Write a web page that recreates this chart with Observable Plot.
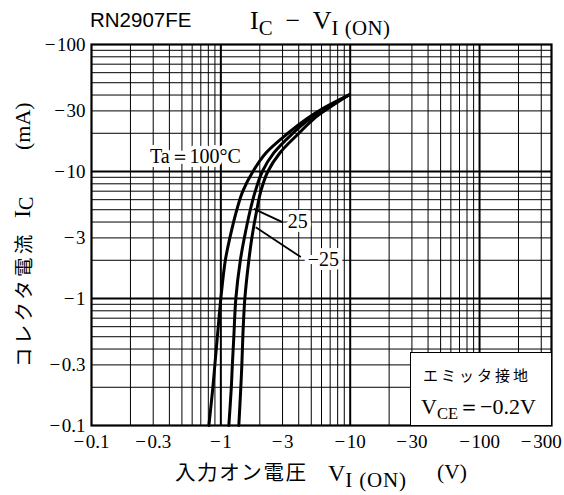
<!DOCTYPE html>
<html><head><meta charset="utf-8">
<script src="https://cdn.jsdelivr.net/npm/d3@7"></script>
<script src="https://cdn.jsdelivr.net/npm/@observablehq/plot@0.6"></script>
<style>
body{margin:0;background:#fff;}
#wrap{position:relative;width:564px;height:495px;overflow:hidden;}
.t{position:absolute;white-space:nowrap;color:#000;font-family:"Liberation Serif",serif;line-height:1;}
.jp{font-family:"Noto Sans CJK JP",sans-serif;}
.sb{font-size:0.8em;position:relative;top:0.28em;}
</style></head><body>
<div id="wrap">
<div id="chart"></div>
<div class="t" style="left:90px;top:10px;font-family:'Liberation Sans',sans-serif;font-size:20.5px;">RN2907FE</div>
<div class="t" style="left:250px;top:8px;font-size:26px;">I<span class="sb">C</span>&nbsp; −&nbsp; V<span class="sb" style="letter-spacing:0.5px;">I (ON)</span></div>
<!-- x axis label -->
<div class="t jp" style="left:175px;top:461px;font-size:20.5px;letter-spacing:1.6px;">入力オン電圧</div>
<div class="t" style="left:328px;top:461px;font-size:24px;">V<span class="sb" style="font-size:21px;letter-spacing:0.8px;">I (ON)</span></div>
<div class="t" style="left:437px;top:462px;font-size:21.5px;">(V)</div>
<!-- condition box -->
<div class="t" style="left:410px;top:352px;width:141px;height:73px;background:#fff;border-left:1.6px solid #000;border-top:1.6px solid #000;box-sizing:border-box;"></div>
<div class="t jp" style="left:423px;top:367px;font-size:15px;letter-spacing:3px;">エミッタ接地</div>
<div class="t" style="left:421px;top:396px;font-size:22px;">V<span class="sb" style="font-size:16.5px;">CE</span>＝−0.2V</div>
</div>
<script>
// Data (absolute values; the axes print them with a minus sign)
const current = [0.1, 0.2, 0.3, 0.5, 1, 2, 3, 5, 7, 10, 14, 20, 26, 32, 40];
const v100 = [0.808, 0.868, 0.899, 0.940, 1.00, 1.083, 1.174, 1.329, 1.479, 1.77, 2.23, 3.30, 4.62, 6.37, 9.75];
const v25  = [1.153, 1.205, 1.227, 1.260, 1.306, 1.415, 1.519, 1.690, 1.847, 2.093, 2.567, 3.60, 4.87, 6.60, 9.75];
const vm25 = [1.377, 1.427, 1.453, 1.479, 1.533, 1.646, 1.736, 1.898, 2.038, 2.308, 2.858, 4.01, 5.23, 6.96, 9.75];
const series = ["100", "25", "-25"];
const seriesValues = [v100, v25, vm25];

const xTicks = [0.1, 0.3, 1, 3, 10, 30, 100, 300];
const yTicks = [0.1, 0.3, 1, 3, 10, 30, 100];
const decadesX = [0.1, 1, 10, 100];
const decadesY = [0.1, 1, 10];
const mult = [2, 3, 4, 5, 6, 7, 8, 9];

// annotations
const labelTa = [{x: 1.43, y: 13.1, text: "Ta＝100°C"}];
const labelT = [{x: 3.29, y: 4.04, text: "25"}, {x: 4.70, y: 2.03, text: "−25"}];
const arrows = [
  {x1: 2.99, y1: 3.99, x2: 1.80, y2: 5.08},
  {x1: 4.15, y1: 2.12, x2: 1.86, y2: 3.64}
];

const rows = series.flatMap((s, k) => current.map((c, i) => ({t: s, v: seriesValues[k][i], i: c})));
const xMinor = decadesX.flatMap(d => mult.map(m => d * m)).filter(v => v < 360);
const yMinor = decadesY.flatMap(d => mult.map(m => d * m));
const fmt = d => "−\u200a" + d;

const plot = Plot.plot({
  width: 564, height: 495,
  marginLeft: 91, marginRight: 13, marginTop: 44, marginBottom: 70,
  style: {fontFamily: "'Liberation Serif', serif", fontSize: "19px", background: "transparent", color: "#000"},
  x: {type: "log", domain: [0.1, 360], label: null},
  y: {type: "log", domain: [0.1, 100], label: null},
  marks: [
    Plot.ruleX(xMinor, {stroke: "#000", strokeWidth: 1}),
    Plot.ruleY(yMinor, {stroke: "#000", strokeWidth: 1}),
    Plot.ruleX(decadesX.slice(1), {stroke: "#000", strokeWidth: 2}),
    Plot.ruleY(decadesY.slice(1), {stroke: "#000", strokeWidth: 2}),
    Plot.frame({stroke: "#000", strokeWidth: 2.2}),
    Plot.axisX({ticks: xTicks, tickFormat: fmt, tickSize: 0, tickPadding: 9, fontSize: 19, label: null}),
    Plot.axisY({ticks: yTicks, tickFormat: fmt, tickSize: 0, tickPadding: 6, fontSize: 19, label: null}),
    Plot.text(labelTa, {x: "x", y: "y", text: "text", textAnchor: "end", fontSize: 20, fill: "#000", stroke: "#fff", strokeWidth: 8, paintOrder: "stroke"}),
    Plot.text(labelT, {x: "x", y: "y", text: "text", textAnchor: "start", fontSize: 20, fill: "#000", stroke: "#fff", strokeWidth: 8, paintOrder: "stroke"}),
    Plot.line(rows, {x: "v", y: "i", z: "t", stroke: "#000", strokeWidth: 3, curve: "catmull-rom"}),
    Plot.link(arrows, {x1: "x1", y1: "y1", x2: "x2", y2: "y2", stroke: "#000", strokeWidth: 1.8, ariaLabel: "annarrow"})
  ]
});
// filled arrowheads on the annotation links
const ns = "http://www.w3.org/2000/svg";
const defs = document.createElementNS(ns, "defs");
const mk = document.createElementNS(ns, "marker");
mk.setAttribute("id", "ah");
mk.setAttribute("viewBox", "0 0 12 7");
mk.setAttribute("refX", "12");
mk.setAttribute("refY", "3.5");
mk.setAttribute("markerWidth", "12");
mk.setAttribute("markerHeight", "7");
mk.setAttribute("markerUnits", "userSpaceOnUse");
mk.setAttribute("orient", "auto");
const mp = document.createElementNS(ns, "path");
mp.setAttribute("d", "M0,0L12,3.5L0,7Z");
mp.setAttribute("fill", "#000");
mk.appendChild(mp);
defs.appendChild(mk);
plot.insertBefore(defs, plot.firstChild);
plot.querySelectorAll('g[aria-label="annarrow"] path, g[aria-label="annarrow"] line').forEach(p => p.setAttribute("marker-end", "url(#ah)"));

// rotated y-axis label
const yl = document.createElementNS(ns, "g");
yl.setAttribute("fill", "#000");
yl.setAttribute("text-anchor", "start");
yl.innerHTML =
  '<text text-anchor="start" transform="translate(22,367) rotate(-90)" dominant-baseline="central" font-family="Noto Sans CJK JP" font-size="19.5" letter-spacing="3.2">コレクタ電流</text>' +
  '<text text-anchor="start" transform="translate(22,218) rotate(-90)" dominant-baseline="central" font-family="Liberation Serif" font-size="24">I<tspan font-size="20" dy="4">C</tspan></text>' +
  '<text text-anchor="start" transform="translate(22,150) rotate(-90)" dominant-baseline="central" font-family="Liberation Serif" font-size="22">(mA)</text>';
plot.appendChild(yl);
document.getElementById("chart").appendChild(plot);
</script>
</body></html>
